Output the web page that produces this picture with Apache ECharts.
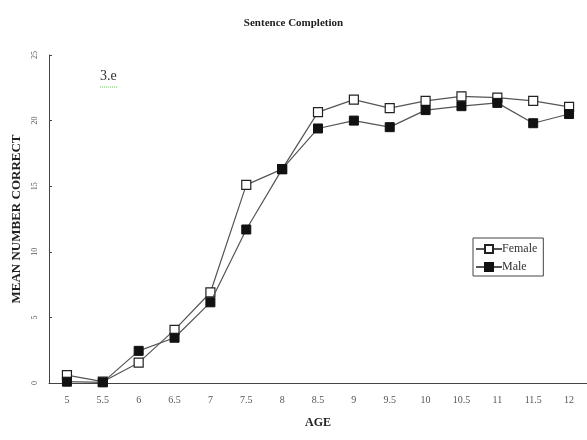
<!DOCTYPE html>
<html>
<head>
<meta charset="utf-8">
<script src="https://cdn.jsdelivr.net/npm/echarts@6/dist/echarts.min.js"></script>
<style>
  html, body { margin: 0; padding: 0; background: #fff; }
  #main { width: 587px; height: 440px; }
</style>
</head>
<body>
<div id="main"></div>
<script>
var ages = ['5', '5.5', '6', '6.5', '7', '7.5', '8', '8.5', '9', '9.5', '10', '10.5', '11', '11.5', '12'];
var female = [0.6, 0.1, 1.55, 4.05, 6.9, 15.1, 16.3, 20.65, 21.6, 20.95, 21.5, 21.85, 21.75, 21.5, 21.05];
var male = [0.1, 0.05, 2.45, 3.45, 6.15, 11.7, 16.3, 19.4, 20.0, 19.5, 20.8, 21.1, 21.35, 19.8, 20.5];

var serif = '"Liberation Serif", "DejaVu Serif", serif';
var chart = echarts.init(document.getElementById('main'));

chart.setOption({
  backgroundColor: '#fff',
  animation: false,
  title: {
    text: 'Sentence Completion',
    left: 'center',
    top: 13,
    textStyle: { fontFamily: serif, fontSize: 11, fontWeight: 'bold', color: '#222' }
  },
  graphic: [
    {
      type: 'text', left: 100, top: 69,
      style: { text: '3.e', font: '14px ' + serif, fill: '#333' }
    },
    {
      type: 'line', shape: { x1: 100, y1: 87, x2: 118, y2: 87 },
      style: { stroke: '#7cbf6a', lineWidth: 1, lineDash: [1, 1] }
    }
  ],
  legend: {
    orient: 'vertical',
    left: 473,
    top: 238,
    itemWidth: 26,
    itemHeight: 10,
    itemGap: 6,
    padding: [5, 6, 3, 2],
    borderColor: '#444',
    borderWidth: 1,
    textStyle: { fontFamily: serif, fontSize: 12, color: '#333', padding: [0, 0, 0, -5] },
    data: ['Female', 'Male']
  },
  grid: { left: 49, right: 0, top: 55, bottom: 57, outerBoundsMode: 'none' },
  xAxis: {
    type: 'category',
    data: ages,
    boundaryGap: true,
    name: 'AGE',
    nameLocation: 'middle',
    nameGap: 34,
    nameTextStyle: { fontFamily: serif, fontSize: 12, fontWeight: 'bold', color: '#222' },
    axisLine: { lineStyle: { color: '#444', width: 1 } },
    axisTick: { inside: true, length: 3, lineStyle: { color: '#444' } },
    axisLabel: { fontFamily: serif, fontSize: 10, color: '#555', margin: 12 }
  },
  yAxis: {
    type: 'value',
    min: 0,
    max: 25,
    interval: 5,
    name: 'MEAN NUMBER CORRECT',
    nameLocation: 'middle',
    nameGap: 25,
    nameTextStyle: { fontFamily: serif, fontSize: 13, fontWeight: 'bold', color: '#222' },
    axisLine: { show: true, lineStyle: { color: '#444', width: 1 } },
    axisTick: { show: true, inside: true, length: 3, lineStyle: { color: '#444' } },
    axisLabel: { fontFamily: serif, fontSize: 8, color: '#555', margin: 10, rotate: 90 },
    splitLine: { show: false }
  },
  series: [
    {
      name: 'Female',
      type: 'line',
      data: female,
      symbol: 'rect',
      symbolSize: 9,
      z: 2,
      lineStyle: { color: '#555', width: 1.2 },
      itemStyle: { color: '#fff', borderColor: '#222', borderWidth: 1.2 }
    },
    {
      name: 'Male',
      type: 'line',
      data: male,
      symbol: 'rect',
      symbolSize: 9,
      z: 3,
      lineStyle: { color: '#555', width: 1.2 },
      itemStyle: { color: '#111', borderColor: '#111', borderWidth: 1 }
    }
  ]
});
</script>
</body>
</html>
